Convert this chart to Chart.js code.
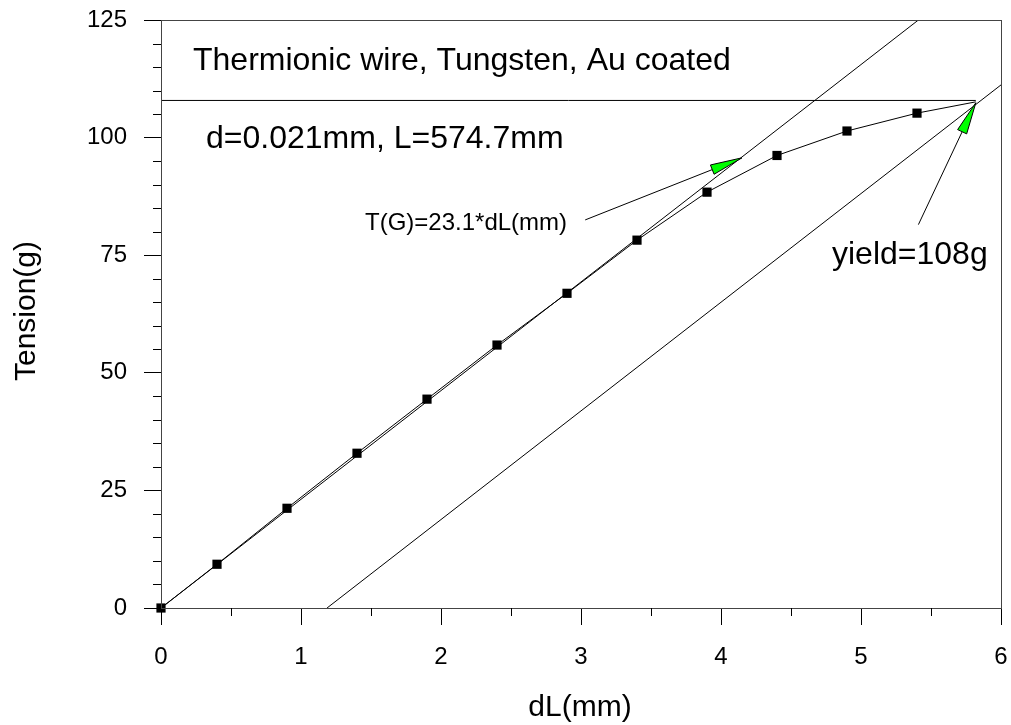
<!DOCTYPE html>
<html>
<head>
<meta charset="utf-8">
<script src="https://cdn.jsdelivr.net/npm/chart.js@4.4.0/dist/chart.umd.min.js"></script>
<style>
  html, body { margin: 0; padding: 0; background: #fff; }
  #wrap { width: 1011px; height: 725px; }
</style>
</head>
<body>
<div id="wrap"><canvas id="c" width="1011" height="725"></canvas></div>
<script>
// Mesures : allongement (mm) et tension (g)
const dL = [0, 0.4, 0.9, 1.4, 1.9, 2.4, 2.9, 3.4, 3.9, 4.4, 4.9, 5.4, 5.82];
const tension = [0, 9.3, 21.2, 32.9, 44.4, 55.9, 66.9, 78.2, 88.4, 96.2, 101.4, 105.2, 107.6];

// Droite d'ajustement T = 23.1 * dL
const fitX = [0, 5.41];
const fitY = [0, 125];
// Droite décalée (limite élastique)
const offsetX = [1.186, 6];
const offsetY = [0, 111.2];
// Ligne horizontale de la limite
const yieldX = [0, 5.82];
const yieldY = [107.9, 107.9];

const xTicks = [0, 1, 2, 3, 4, 5, 6];
const yTicks = [0, 25, 50, 75, 100, 125];

const FONT = '"Liberation Sans", Arial, sans-serif';
const toPts = (xs, ys) => xs.map((x, i) => ({ x: x, y: ys[i] }));

const lineStyle = {
    showLine: true,
    borderColor: '#000',
    borderWidth: 1,
    pointRadius: 0,
    fill: false
};

// Annotations : textes et flèches
const annotations = {
    id: 'annotations',
    afterDatasetsDraw(chart) {
        const { ctx, chartArea, scales } = chart;
        const px = v => scales.x.getPixelForValue(v);
        const py = v => scales.y.getPixelForValue(v);
        ctx.save();

        // cadre
        ctx.strokeStyle = '#444';
        ctx.lineWidth = 1;
        ctx.strokeRect(chartArea.left + 0.5, chartArea.top + 0.5,
            chartArea.right - chartArea.left, chartArea.bottom - chartArea.top);

        // graduations secondaires
        ctx.strokeStyle = '#000';
        ctx.beginPath();
        for (let v = 0.5; v < 6; v += 1) {
            const x = Math.round(px(v)) + 0.5;
            ctx.moveTo(x, chartArea.bottom);
            ctx.lineTo(x, chartArea.bottom + 8);
        }
        for (let v = 5; v < 125; v += 5) {
            if (v % 25 === 0) continue;
            const y = Math.round(py(v)) + 0.5;
            ctx.moveTo(chartArea.left, y);
            ctx.lineTo(chartArea.left - 8, y);
        }
        ctx.stroke();

        // flèches
        const arrow = (x0, y0, x1, y1) => {
            const a = [px(x0), py(y0)], b = [px(x1), py(y1)];
            const ang = Math.atan2(b[1] - a[1], b[0] - a[0]);
            const len = 32, hw = 5;
            const bx = b[0] - len * Math.cos(ang), by = b[1] - len * Math.sin(ang);
            ctx.strokeStyle = '#000';
            ctx.lineWidth = 1;
            ctx.beginPath();
            ctx.moveTo(a[0], a[1]);
            ctx.lineTo(bx, by);
            ctx.stroke();
            ctx.beginPath();
            ctx.moveTo(b[0], b[1]);
            ctx.lineTo(bx - hw * Math.sin(ang), by + hw * Math.cos(ang));
            ctx.lineTo(bx + hw * Math.sin(ang), by - hw * Math.cos(ang));
            ctx.closePath();
            ctx.fillStyle = '#00ff00';
            ctx.fill();
            ctx.stroke();
        };
        arrow(3.03, 82.5, 4.15, 95.7);
        arrow(5.41, 81.5, 5.82, 107.4);

        // textes
        ctx.fillStyle = '#000';
        ctx.textBaseline = 'alphabetic';
        ctx.textAlign = 'left';
        ctx.font = '32px ' + FONT;
        ctx.fillText('Thermionic wire, Tungsten, Au coated', 193, 70);
        ctx.fillText('d=0.021mm, L=574.7mm', 206, 148);
        ctx.fillText('yield=108g', 832, 264);
        ctx.font = '24px ' + FONT;
        ctx.fillText('T(G)=23.1*dL(mm)', 365, 230);

        // titres des axes
        ctx.font = '30px ' + FONT;
        ctx.textAlign = 'center';
        ctx.textBaseline = 'middle';
        ctx.fillText('dL(mm)', 580, 708);
        ctx.translate(27, 311);
        ctx.rotate(-Math.PI / 2);
        ctx.fillText('Tension(g)', 0, 0);
        ctx.restore();
    }
};

new Chart(document.getElementById('c'), {
    type: 'scatter',
    data: {
        datasets: [
            {
                ...lineStyle,
                data: toPts(dL, tension),
                clip: false,
                pointStyle: 'rect',
                pointRadius: ctx => ctx.dataIndex === dL.length - 1 ? 0 : 6.5,
                pointBackgroundColor: '#000',
                pointBorderColor: '#000',
                pointBorderWidth: 0
            },
            { ...lineStyle, data: toPts(fitX, fitY) },
            { ...lineStyle, data: toPts(offsetX, offsetY) },
            { ...lineStyle, data: toPts(yieldX, yieldY) }
        ]
    },
    options: {
        responsive: false,
        animation: false,
        layout: { padding: { top: 20, right: 10, left: 0, bottom: 0 } },
        plugins: {
            legend: { display: false },
            tooltip: { enabled: false }
        },
        scales: {
            x: {
                type: 'linear',
                min: 0,
                max: 6,
                afterFit: s => { s.height = 117; s.paddingLeft = 0; s.paddingRight = 0; },
                afterBuildTicks: s => { s.ticks = xTicks.map(v => ({ value: v })); },
                ticks: { color: '#000', font: { size: 24, family: FONT }, padding: 18 },
                grid: { drawOnChartArea: false, tickLength: 17, color: '#000' },
                border: { color: '#444' }
            },
            y: {
                type: 'linear',
                min: 0,
                max: 125,
                afterFit: s => { s.width = 161; s.paddingTop = 0; s.paddingBottom = 0; },
                afterBuildTicks: s => { s.ticks = yTicks.map(v => ({ value: v })); },
                ticks: { color: '#000', font: { size: 24, family: FONT }, padding: 17 },
                grid: { drawOnChartArea: false, tickLength: 17, color: '#000' },
                border: { color: '#444' }
            }
        }
    },
    plugins: [annotations]
});
</script>
</body>
</html>
